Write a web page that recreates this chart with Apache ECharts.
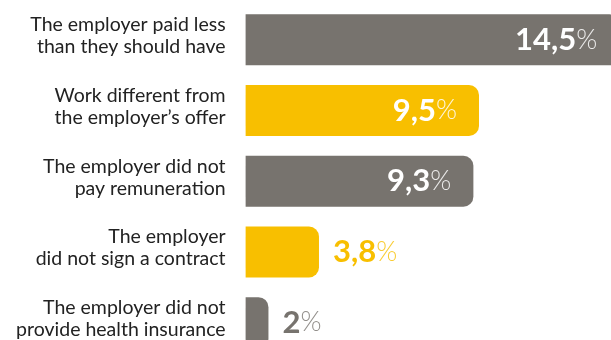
<!DOCTYPE html>
<html>
<head>
<meta charset="utf-8">
<script src="https://cdn.jsdelivr.net/npm/echarts@6/dist/echarts.min.js"></script>
<style>
  html, body { margin: 0; padding: 0; background: #ffffff; }
  #chart { width: 611px; height: 340px; }
</style>
</head>
<body>
<div id="chart"></div>
<script>
// Reasons reported for employer violations (% of respondents)
const categories = [
  'The employer paid less\nthan they should have',
  'Work different from\nthe employer\u2019s offer',
  'The employer did not\npay remuneration',
  'The employer\ndid not sign a contract',
  'The employer did not\nprovide health insurance'
];
const values = [14.5, 9.5, 9.3, 3.8, 2];

// Alternating bar palette
const barColors = ['#77736e', '#f8bf00', '#77736e', '#f8bf00', '#77736e'];
const INSIDE_MIN = 5; // labels go inside bars longer than this

const fmt = v => String(v).replace('.', ',');

const seriesData = values.map((v, i) => {
  const inside = v > INSIDE_MIN;
  const c = barColors[i];
  return {
    value: v,
    itemStyle: { color: c },
    label: {
      position: inside ? 'insideRight' : 'right',
      distance: inside ? 22 : 14,
      rich: {
        n: {
          fontFamily: 'Lato', fontWeight: 'bold', fontSize: 31,
          color: inside ? '#ffffff' : c
        },
        p: {
          fontFamily: 'Lato', fontWeight: 300, fontSize: 27,
          color: inside ? 'rgba(255,255,255,0.85)' : c,
          opacity: inside ? 1 : 0.8
        }
      }
    }
  };
});

const chart = echarts.init(document.getElementById('chart'), null, { renderer: 'canvas' });
chart.setOption({
  animation: false,
  backgroundColor: '#ffffff',
  grid: {
    left: 245.6, top: 4.5, height: 353.5, width: 387.8,
    containLabel: false, outerBoundsMode: 'none'
  },
  xAxis: {
    type: 'value',
    min: 1.186,
    max: 15,
    show: false
  },
  yAxis: {
    type: 'category',
    data: categories,
    inverse: true,
    axisLine: { show: false },
    axisTick: { show: false },
    splitLine: { show: false },
    axisLabel: {
      margin: 20,
      formatter: v => '{t|' + v.split('\n').join('}\n{t|') + '}',
      rich: {
        t: {
          fontFamily: 'Lato',
          fontSize: 19.5,
          lineHeight: 22,
          color: '#222222',
          align: 'right'
        }
      },
      padding: [0, 0, 8, 0]
    }
  },
  series: [{
    type: 'bar',
    clip: true,
    barWidth: 51,
    data: seriesData,
    itemStyle: { borderRadius: [0, 10, 10, 0] },
    label: {
      show: true,
      formatter: p => '{n|' + fmt(p.value) + '}{p|%}'
    }
  }]
});
</script>
</body>
</html>
